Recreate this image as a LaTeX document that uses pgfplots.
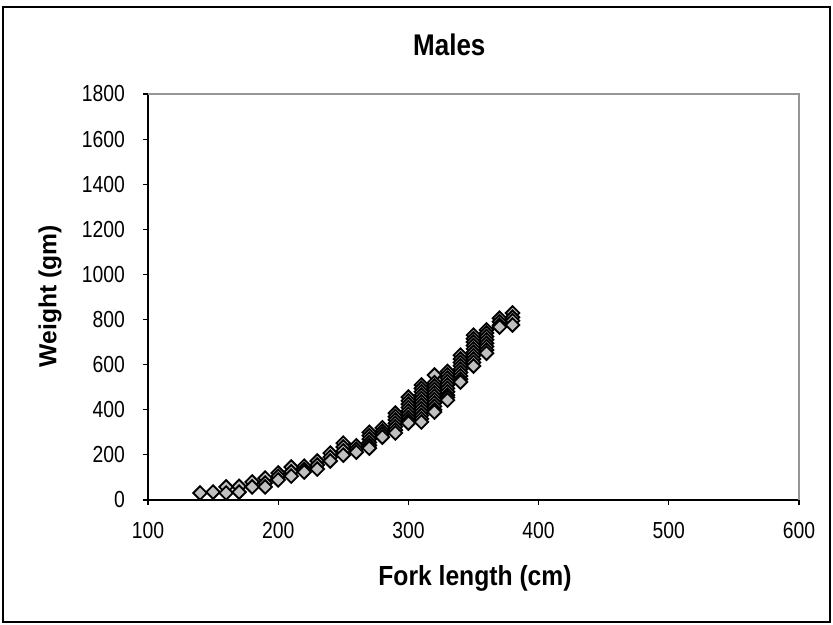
\documentclass[border=0pt]{standalone}
\usepackage{pgfplots}
\pgfplotsset{compat=1.18}
\usepackage{fontspec}
\setmainfont{Liberation Sans}
\definecolor{markgray}{RGB}{192,192,192}
\definecolor{framegray}{RGB}{150,150,150}
\newcommand{\tickfont}{\fontsize{14.5}{17}\selectfont}
\begin{document}
\begin{tikzpicture}
\useasboundingbox (-111pt,-93.75pt) rectangle (513.75pt,375pt);
\draw[black, line width=1pt] (-108.75pt,-91.5pt) rectangle (511.5pt,369.75pt);
\begin{axis}[
  at={(0pt,0pt)}, anchor=origin,
  scale only axis,
  width=488.25pt, height=304.5pt,
  xmin=100, xmax=600, ymin=0, ymax=1800,
  xtick={100,200,...,600}, ytick={0,200,...,1800},
  xticklabels={100,200,300,400,500,600},
  yticklabels={0,200,400,600,800,1000,1200,1400,1600,1800},
  axis x line*=bottom, axis y line*=left,
  axis line style={black, line width=1.1pt, -},
  tick align=outside, major tick length=3.75pt,
  tick style={black, line width=0.8pt},
  xtick pos=bottom, ytick pos=left,
  xticklabel style={font=\tickfont, yscale=1.2, yshift=-7pt},
  yticklabel style={font=\tickfont, yscale=1.2, xshift=-10pt},
  clip=false,
]
\draw[framegray, line width=1.2pt] (rel axis cs:0,1) -- (rel axis cs:1,1) -- (rel axis cs:1,0);
\addplot[only marks, mark=square*, mark size=3.6pt,
  mark options={rotate=45, fill=markgray, draw=black, line width=1.4pt}]
coordinates {
(140,31)
(150,35)
(160,58) (160,31)
(170,60) (170,35)
(180,80) (180,58)
(190,97) (190,75) (190,58)
(200,120) (200,105) (200,89)
(210,146) (210,125) (210,106)
(220,150) (220,135) (220,124)
(230,173) (230,155) (230,137)
(240,208) (240,190) (240,173)
(250,252) (250,235) (250,218) (250,199)
(260,240) (260,225) (260,212)
(270,300) (270,285) (270,270) (270,255) (270,242) (270,230)
(280,320) (280,305) (280,292) (280,279)
(290,385) (290,370) (290,355) (290,340) (290,325) (290,310) (290,297)
(300,456) (300,440) (300,425) (300,410) (300,395) (300,380) (300,365) (300,352) (300,341)
(310,510) (310,495) (310,480) (310,465) (310,450) (310,435) (310,420) (310,405) (310,390) (310,375) (310,360) (310,346)
(320,554) (320,520) (320,505) (320,490) (320,475) (320,460) (320,445) (320,430) (320,415) (320,400) (320,390)
(330,570) (330,555) (330,540) (330,525) (330,510) (330,495) (330,480) (330,465) (330,455) (330,443)
(340,642) (340,625) (340,610) (340,595) (340,580) (340,565) (340,550) (340,535) (340,523)
(350,731) (350,715) (350,700) (350,685) (350,670) (350,655) (350,640) (350,625) (350,610) (350,594)
(360,754) (360,740) (360,725) (360,710) (360,695) (360,680) (360,665) (360,651)
(370,806) (370,790) (370,775) (370,767)
(380,829) (380,810) (380,795) (380,776)
};
\end{axis}
\node[font=\bfseries\fontsize{19.5}{23}\selectfont, yscale=1.15] at (226pt,341.25pt) {Males};
\node[font=\bfseries\fontsize{18.5}{22}\selectfont, yscale=1.12] at (245.25pt,-58.5pt) {Fork length (cm)};
\node[font=\bfseries\fontsize{18.5}{22}\selectfont, rotate=90] at (-73.5pt,153pt) {Weight (gm)};
\end{tikzpicture}
\end{document}
